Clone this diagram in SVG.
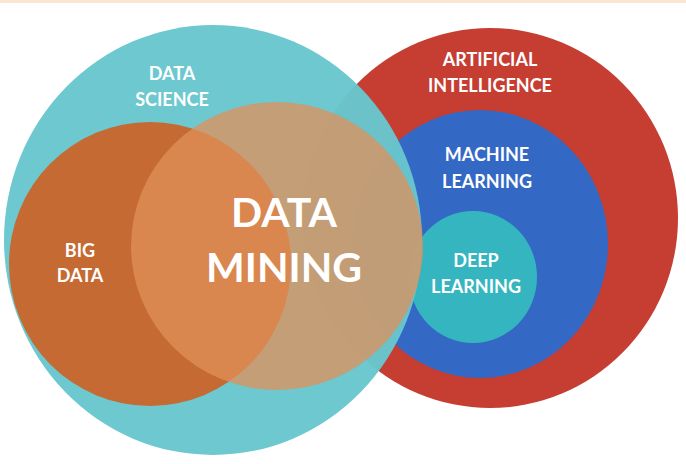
<svg xmlns="http://www.w3.org/2000/svg" width="686" height="464" viewBox="0 0 686 464">
<style>
.t{font-family:Lato,"Open Sans","Liberation Sans",sans-serif;font-weight:bold;fill:#fff;text-anchor:middle}
.s{font-size:18px}
.b{font-size:41px}
</style>
<rect width="686" height="464" fill="#fff"/>
<rect width="686" height="3" fill="#fbe6d2"/>
<g id="ai"><ellipse cx="490" cy="218" rx="188" ry="190" fill="#c63d32"/></g>
<g id="ml"><ellipse cx="480" cy="244" rx="128" ry="134" fill="#3369c4"/></g>
<g id="dl"><ellipse cx="473" cy="277" rx="64" ry="66" fill="#35b5bf"/></g>
<g id="ds"><ellipse cx="213" cy="240" rx="209" ry="215" fill="#68c6ce" opacity="0.97"/></g>
<g id="bd"><ellipse cx="150" cy="264" rx="141" ry="142" fill="#c46a32"/></g>
<g id="dm"><ellipse cx="277" cy="246" rx="146" ry="144" fill="#e0905a" opacity="0.75"/></g>
<g id="labels">
<text class="t s" x="172" y="80">DATA</text>
<text class="t s" x="172" y="106">SCIENCE</text>
<text class="t s" x="490" y="66">ARTIFICIAL</text>
<text class="t s" x="490" y="92">INTELLIGENCE</text>
<text class="t s" x="487" y="161">MACHINE</text>
<text class="t s" x="487" y="188">LEARNING</text>
<text class="t s" x="80" y="257">BIG</text>
<text class="t s" x="80" y="282">DATA</text>
<text class="t s" x="476" y="267">DEEP</text>
<text class="t s" x="476" y="293">LEARNING</text>
<text class="t b" x="284" y="227">DATA</text>
<text class="t b" x="284" y="282">MINING</text>
</g>
</svg>
